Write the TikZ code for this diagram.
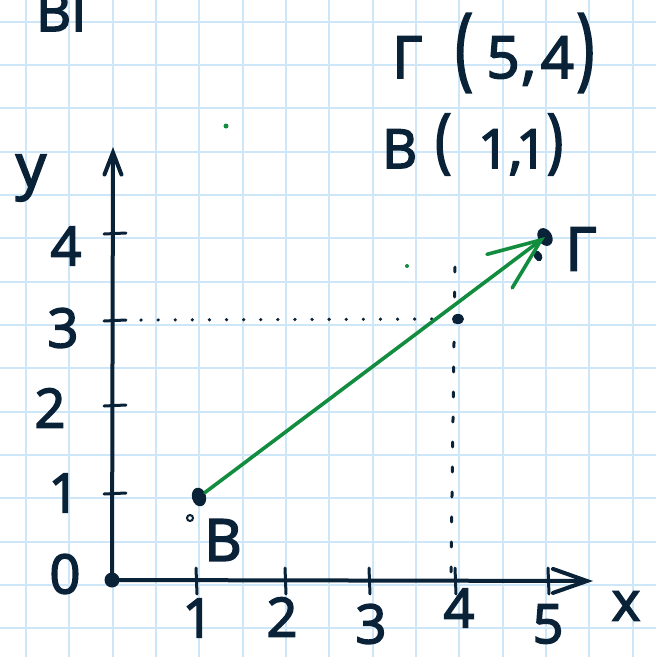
\documentclass[tikz,border=0pt]{standalone}
\usepackage{fontspec}
\setmainfont{Open Sans}[FakeBold=3]
\usepackage{graphicx}
\usetikzlibrary{arrows.meta,shapes.geometric}
\definecolor{ink}{RGB}{10,34,56}
\definecolor{vgreen}{RGB}{18,140,62}
\definecolor{gridblue}{RGB}{205,230,248}
\newcommand{\tallpar}[3]{\raisebox{#2}{\scalebox{1}[#1]{#3}}}
\tikzset{
  gridline/.style={draw=gridblue,line width=1.8pt},
  axisline/.style={draw=ink,line width=4pt,line cap=round},
  tickmark/.style={draw=ink,line width=3pt,line cap=round},
  hand/.style={text=ink,inner sep=0pt,font=\fontsize{54}{54}\selectfont},
  inkdot/.style={circle,fill=ink,inner sep=0pt,minimum size=#1},
  inkblob/.style={ellipse,fill=ink,inner sep=0pt,minimum width=14pt,minimum height=19pt},
  greendot/.style={circle,fill=vgreen,inner sep=0pt,minimum size=#1},
  hdots/.style={draw=ink,line width=3.5pt,line cap=round,dash pattern=on 0.1pt off 17pt},
  vdots/.style={draw=ink,line width=3pt,line cap=round,dash pattern=on 5pt off 20pt},
  vec/.style={draw=vgreen,line width=3.6pt,line cap=round,-{Straight Barb[length=52pt,width=42pt,line cap=round]}},
}
\begin{document}
\begin{tikzpicture}[x=1pt,y=-1pt]
\useasboundingbox (0,0) rectangle (656,657);
\clip (0,0) rectangle (656,657);
\fill[white] (0,0) rectangle (656,657);
% grid paper
\foreach \k in {0,...,15} {
  \draw[gridline] ({26+43.33*\k},0) -- ++(0,657);
  \draw[gridline] (0,{21.67+43.33*\k}) -- ++(656,0);
}
% cut-off heading at the top
\node[hand,anchor=base west] (head) at (36,31) {BΓ};
% coordinates written at the top right
\node[hand,anchor=base west,font=\fontsize{58}{58}\selectfont] (gcoord) at (392,78)
  {Γ\hspace{33pt}\tallpar{1.55}{0pt}{(}\hspace{14pt}5\hspace{2pt},\hspace{5pt}4\hspace{3pt}\tallpar{1.55}{0pt}{)}};
\node[hand,anchor=base west,font=\fontsize{54}{54}\selectfont] (bcoord) at (382,168)
  {B\hspace{18pt}\tallpar{1.3}{4pt}{(}\hspace{27pt}1\hspace{0pt},\hspace{-6pt}1\hspace{0pt}\tallpar{1.3}{4pt}{)}};
% axes
\node[inkdot=15pt] (O) at (112,580) {};
\coordinate (xend) at (593,581);
\coordinate (yend) at (113,147);
\draw[axisline,-{Straight Barb[length=34pt,width=24pt,line cap=round]}] (O.center) -- (xend);
\draw[axisline,-{Straight Barb[length=22pt,width=17pt,line cap=round]}] (O.center) -- (yend);
% ticks on the x axis
\foreach \px/\lx/\ly/\t in {196/198/618/1,285/282/617/2,369/371/624/3,455/459/608/4,548/548/624/5} {
  \draw[tickmark] (\px,568) -- (\px+1,594);
  \node[hand] (x\t) at (\lx,\ly) {\t};
}
% ticks on the y axis
\foreach \py in {493,405,320,233} {
  \draw[tickmark] (104,\py+1) -- (126,\py);
}
\node[hand] (y1) at (64,493) {1};
\node[hand] (y2) at (50,408) {2};
\node[hand] (y3) at (63,328) {3};
\node[hand] (y4) at (66,246) {4};
\node[hand] (y0) at (65,574) {0};
\node[hand] (xlab) at (626,606) {x};
\node[hand,font=\fontsize{60}{60}\selectfont] (ylab) at (31,178) {y};
% points
\node[inkblob,rotate=15] (B) at (199,497) {};
\node[circle,draw=ink,line width=2pt,inner sep=0pt,minimum size=6pt] (Bsmall) at (190,518) {};
\node[hand,font=\fontsize{58}{58}\selectfont] (Blab) at (223,540) {B};
\node[inkblob,rotate=30] (G) at (545,237) {};
\node[ellipse,fill=ink,inner sep=0pt,minimum width=8pt,minimum height=11pt,rotate=30] (Gsmall) at (538,256) {};
\node[hand,font=\fontsize{60}{60}\selectfont] (Glab) at (581,249) {Γ};
\node[inkdot=12pt,yscale=0.85] (P) at (458,319) {};
% stray green dots
\node[greendot=5pt] (g1) at (226,126) {};
\node[greendot=4pt] (g2) at (407,266) {};
% dotted projections
\coordinate (h1) at (141,320);
\coordinate (v1) at (451,572);
\draw[hdots] (h1) -- ([xshift=-16pt]P.center);
\draw[vdots] ([xshift=-3pt,yshift=52pt]P.center) -- (v1);
% vector from B to Gamma
\draw[vec] (B) -- (G.center);
\end{tikzpicture}
\end{document}
